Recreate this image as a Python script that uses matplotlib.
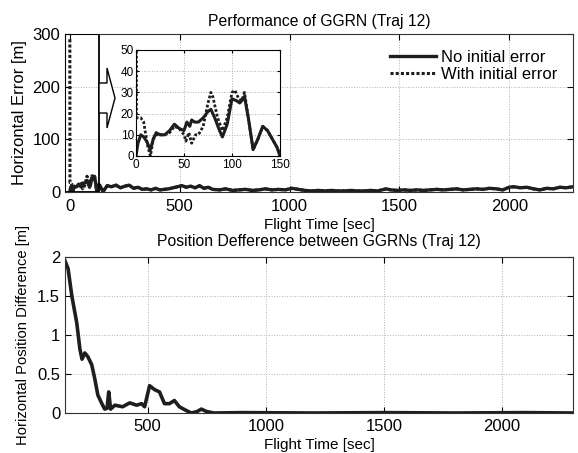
import matplotlib
matplotlib.use("Agg")
import matplotlib.pyplot as plt
from matplotlib.patches import Rectangle, Polygon
import numpy as np

plt.rcParams['font.family'] = ['Liberation Sans', 'DejaVu Sans']

# ---------------- data ----------------
# Inset (first 150 s), no initial error
t_in = [0, 2, 5, 8, 11, 15, 18, 21, 25, 30, 35, 40, 45, 50, 53, 56, 58, 61, 65, 70, 75, 78,
        82, 87, 90, 95, 100, 105, 108, 110, 113, 117, 122, 127, 132, 137, 142, 147, 150]
no_err_in = [0, 6, 10, 9, 7, 3, 8, 11, 10, 10, 12, 15, 13, 12, 16, 14, 17, 16, 16, 18, 21, 22,
             18, 12, 9, 15, 27, 26, 25, 26, 28, 18, 3, 8, 14, 12, 8, 4, 0]
t_in2 = [0, 0.5, 2, 5, 8, 12, 15, 18, 21, 25, 30, 35, 40, 45, 50, 52, 55, 58, 62, 65, 70, 75,
         78, 80, 85, 90, 95, 100, 103, 107, 110, 113, 117, 122, 127, 132, 137, 142, 147, 150]
with_err_in = [290, 18, 18, 18, 16, 5, 0, 8, 10, 10, 10, 11, 14, 13, 10, 7, 11, 6, 10, 10, 14, 25,
               30, 28, 18, 12, 18, 30, 31, 27, 26, 30, 18, 3, 8, 14, 12, 8, 4, 0]

# Remainder of flight, no initial error
t_rest = [150, 170, 190, 210, 230, 250, 270, 290, 310, 330, 350, 370, 390, 410, 430, 450,
          470, 490, 510, 530, 550, 570, 590, 610, 630, 650, 680, 710, 740, 770, 800, 830,
          860, 890, 920, 950, 980, 1010, 1040, 1070, 1100, 1130, 1160, 1190, 1220, 1250,
          1280, 1310, 1340, 1370, 1400, 1420, 1440, 1460, 1490, 1520, 1550, 1580, 1610,
          1640, 1670, 1700, 1730, 1760, 1790, 1820, 1850, 1880, 1910, 1940, 1970, 2000,
          2020, 2050, 2080, 2110, 2140, 2170, 2200, 2230, 2260, 2290]
no_err_rest = [0, 12, 10, 13, 8, 11, 13, 7, 9, 5, 6, 4, 7, 4, 5, 6,
               8, 10, 12, 9, 11, 8, 12, 7, 9, 5, 4, 6, 3, 4, 5, 3,
               4, 6, 4, 5, 4, 7, 5, 3, 2, 3, 2, 3, 2, 2,
               3, 2, 2, 3, 2, 4, 6, 4, 3, 4, 3, 4, 3,
               4, 5, 4, 5, 6, 4, 5, 6, 5, 7, 6, 4, 9,
               10, 8, 9, 6, 4, 7, 6, 9, 8, 10]

# Position difference between GGRNs
t_diff = [150, 154, 163, 179, 200, 213, 222, 234, 247, 263, 276, 289, 306, 318, 328, 335,
          343, 361, 394, 424, 453, 474, 487, 508, 529, 550, 571, 592, 613, 634, 664, 685,
          710, 727, 748, 780, 900, 1200, 1500, 1800, 2100, 2300]
diff = [1.95, 1.92, 1.85, 1.5, 1.15, 0.82, 0.69, 0.77, 0.72, 0.62, 0.44, 0.23, 0.12, 0.05, 0.06, 0.27,
        0.05, 0.1, 0.08, 0.13, 0.1, 0.12, 0.08, 0.35, 0.3, 0.27, 0.12, 0.12, 0.16, 0.08, 0.03, 0.0,
        0.02, 0.05, 0.02, 0.0, 0.005, 0.0, 0.005, 0.0, 0.005, 0.0]

t_no = t_in + t_rest[1:]
y_no = no_err_in + no_err_rest[1:]
t_with = t_in2 + t_rest[1:]
y_with = with_err_in + no_err_rest[1:]

# ---------------- figure ----------------
W, H = 578, 453
fig = plt.figure(figsize=(W / 100, H / 100), dpi=100)

def box(l, t, r, b):
    return [l / W, 1 - b / H, (r - l) / W, (b - t) / H]

grid_kw = dict(color='#b0b0b0', linestyle=':', linewidth=0.7)
TICK = 12
TITLE = 11.3
LAB = 11
INK = '#1e1e1e'

def style_ticks(ax, size, xpad, ypad, length):
    ax.tick_params(direction='in', top=True, right=True, labelsize=size, length=length)
    ax.tick_params(axis='x', pad=xpad)
    ax.tick_params(axis='y', pad=ypad)

ax1 = fig.add_axes(box(65, 34, 573, 192))
ax1.plot(t_no, y_no, color=INK, lw=2.4, label='No initial error')
ax1.plot(t_with, y_with, color=INK, lw=2.2, linestyle=(0, (1.0, 0.7)), label='With initial error')
ax1.set_xlim(-22, 2290)
ax1.set_ylim(0, 300)
ax1.set_xticks([0, 500, 1000, 1500, 2000])
ax1.set_yticks([0, 100, 200, 300])
ax1.grid(True, **grid_kw)
style_ticks(ax1, TICK, 5, 3.5, 4)
ax1.set_title('Performance of GGRN (Traj 12)', fontsize=TITLE, pad=6)
ax1.set_xlabel('Flight Time [sec]', fontsize=LAB, labelpad=3)
ax1.set_ylabel('Horizontal Error [m]', fontsize=12, labelpad=4)
leg = ax1.legend(loc='upper right', frameon=False, fontsize=TICK, handlelength=2.75,
                 borderaxespad=0.55, labelspacing=0.15, handletextpad=0.3)
ax1.add_patch(Rectangle((-22, 0), 157, 300, fill=False, edgecolor='black', lw=1.3, zorder=5))
for s in ax1.spines.values():
    s.set_color('#333333')

# hollow arrow (figure pixels)
arrow_px = [(99, 83), (107, 83), (107, 68), (115, 98), (107, 128), (107, 113), (99, 113)]
arrow = Polygon([(x / W, 1 - y / H) for x, y in arrow_px], closed=True, fill=True,
                facecolor='white', edgecolor='black', lw=1.0, transform=fig.transFigure)
fig.patches.append(arrow)

# inset
ax_in = fig.add_axes(box(136, 50, 280, 156))
ax_in.plot(t_no, y_no, color=INK, lw=2.2)
ax_in.plot(t_with, y_with, color=INK, lw=2.0, linestyle=(0, (1.0, 0.7)))
ax_in.set_xlim(0, 150)
ax_in.set_ylim(0, 50)
ax_in.set_xticks([0, 50, 100, 150])
ax_in.set_yticks([0, 10, 20, 30, 40, 50])
ax_in.grid(True, **grid_kw)
style_ticks(ax_in, 8.5, 2, 1.5, 2)

# bottom
ax2 = fig.add_axes(box(65, 257, 573, 413))
ax2.plot(t_diff, diff, color=INK, lw=2.6)
ax2.set_xlim(150, 2300)
ax2.set_ylim(0, 2)
ax2.set_xticks([500, 1000, 1500, 2000])
ax2.set_yticks([0, 0.5, 1, 1.5, 2])
ax2.set_yticklabels(['0', '0.5', '1', '1.5', '2'])
ax2.grid(True, **grid_kw)
style_ticks(ax2, TICK, 4.5, 3.5, 4)
ax2.set_title('Position Defference between GGRNs (Traj 12)', fontsize=TITLE, pad=8)
ax2.set_xlabel('Flight Time [sec]', fontsize=LAB, labelpad=3)
ax2.set_ylabel('Horizontal Position Difference [m]', fontsize=10.6, labelpad=5)
for s in ax2.spines.values():
    s.set_color('#333333')

fig.savefig('out.png', dpi=100)
